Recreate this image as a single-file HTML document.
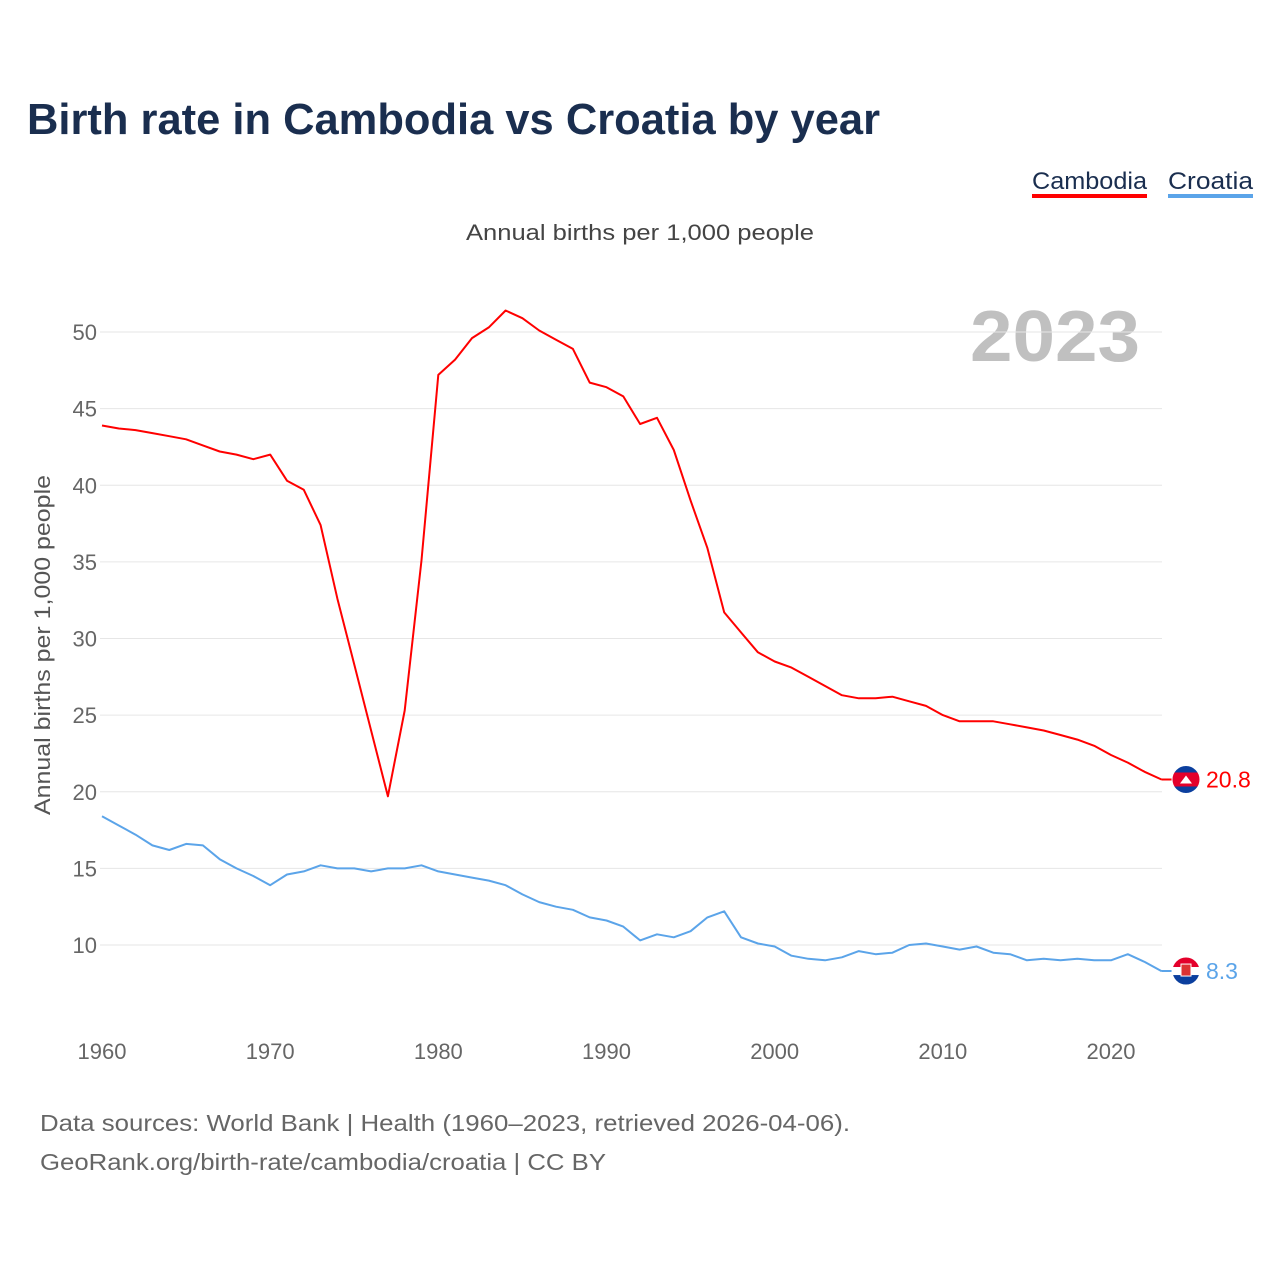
<!DOCTYPE html>
<html><head><meta charset="utf-8"><style>
html,body{margin:0;padding:0;background:#fff;}
body{width:1280px;height:1280px;position:relative;font-family:"Liberation Sans",sans-serif;overflow:hidden;}
</style></head><body>
<svg id="chart" width="1280" height="1280" xmlns="http://www.w3.org/2000/svg" style="position:absolute;left:0;top:0">
<text x="27" y="134" font-size="44" font-weight="bold" fill="#1a2e4f" textLength="853" lengthAdjust="spacingAndGlyphs">Birth rate in Cambodia vs Croatia by year</text>
<g>
<text x="1032" y="189" font-size="24" fill="#1a2e4f" textLength="115" lengthAdjust="spacingAndGlyphs">Cambodia</text>
<rect x="1032" y="194" width="115" height="4" fill="#ff0000"/>
<text x="1168" y="189" font-size="24" fill="#1a2e4f" textLength="85" lengthAdjust="spacingAndGlyphs">Croatia</text>
<rect x="1168" y="194" width="85" height="4" fill="#5ba4e9"/>
</g>
<text x="466" y="240" font-size="22" fill="#444" textLength="348" lengthAdjust="spacingAndGlyphs">Annual births per 1,000 people</text>
<text x="970" y="361" font-size="72" font-weight="bold" fill="#c0c0c0" textLength="170" lengthAdjust="spacingAndGlyphs">2023</text>
<text transform="translate(50,815) rotate(-90)" font-size="22" fill="#555" textLength="340" lengthAdjust="spacingAndGlyphs">Annual births per 1,000 people</text>
<defs><clipPath id="cc1"><circle cx="1186" cy="0" r="14"/></clipPath></defs>
<g id="grid"></g><g id="yt"></g><g id="xt"></g><g id="lines"></g><g id="ends"></g>
<text x="40" y="1131" font-size="23" fill="#666" textLength="810" lengthAdjust="spacingAndGlyphs">Data sources: World Bank | Health (1960–2023, retrieved 2026-04-06).</text>
<text x="40" y="1170" font-size="23" fill="#666" textLength="566" lengthAdjust="spacingAndGlyphs">GeoRank.org/birth-rate/cambodia/croatia | CC BY</text>
</svg>
<script>
const years=[];for(let y=1960;y<=2023;y++)years.push(y);
const cambodia=[43.9,43.7,43.6,43.4,43.2,43.0,42.6,42.2,42.0,41.7,42.0,40.3,39.7,37.4,32.6,28.3,24.0,19.7,25.3,35.1,47.2,48.2,49.6,50.3,51.4,50.9,50.1,49.5,48.9,46.7,46.4,45.8,44.0,44.4,42.3,39.0,35.9,31.7,30.4,29.1,28.5,28.1,27.5,26.9,26.3,26.1,26.1,26.2,25.9,25.6,25.0,24.6,24.6,24.6,24.4,24.2,24.0,23.7,23.4,23.0,22.4,21.9,21.3,20.8];
const croatia=[18.4,17.8,17.2,16.5,16.2,16.6,16.5,15.6,15.0,14.5,13.9,14.6,14.8,15.2,15.0,15.0,14.8,15.0,15.0,15.2,14.8,14.6,14.4,14.2,13.9,13.3,12.8,12.5,12.3,11.8,11.6,11.2,10.3,10.7,10.5,10.9,11.8,12.2,10.5,10.1,9.9,9.3,9.1,9.0,9.2,9.6,9.4,9.5,10.0,10.1,9.9,9.7,9.9,9.5,9.4,9.0,9.1,9.0,9.1,9.0,9.0,9.4,8.9,8.3];
const yTicks=[10,15,20,25,30,35,40,45,50];
const xTicks=[1960,1970,1980,1990,2000,2010,2020];
const X=y=>102+(y-1960)*(1009/60);
const Y=v=>945-(v-10)*(613/40);
const NS="http://www.w3.org/2000/svg";
function mk(t,a,p){const e=document.createElementNS(NS,t);for(const k in a)e.setAttribute(k,a[k]);p.appendChild(e);return e;}
const grid=document.getElementById('grid'),yt=document.getElementById('yt'),xt=document.getElementById('xt');
yTicks.forEach(v=>{
 const l=mk('line',{x1:100,x2:1162,y1:Y(v),y2:Y(v),stroke:'#e6e6e6','stroke-width':1},grid);
 
 
 const t=mk('text',{x:97,y:Y(v)+8,'font-size':22,fill:'#666','text-anchor':'end'},yt);
 t.textContent=v;
 
 
});
xTicks.forEach(v=>{
 const t=mk('text',{x:X(v),y:1059,'font-size':22,fill:'#666','text-anchor':'middle'},xt);
 t.textContent=v;
 
 
});
const lines=document.getElementById('lines'),ends=document.getElementById('ends');
const defs=document.querySelector('defs');
function series(vals,color,name){
 const d=vals.map((v,i)=>(i?'L':'M')+X(years[i]).toFixed(1)+','+Y(v).toFixed(1)).join(' ');
 const p=mk('path',{d:d,fill:'none',stroke:color,'stroke-width':2,'stroke-linejoin':'round'},lines);
 
 
 const last=vals[vals.length-1],ly=Y(last);
 mk('line',{x1:X(2023),x2:1186,y1:ly,y2:ly,stroke:color,'stroke-width':2},ends);
 const cp=mk('clipPath',{id:'clip-'+name},defs);
 mk('circle',{cx:1186,cy:ly,r:14},cp);
 const g=mk('g',{'clip-path':'url(#clip-'+name+')'},ends);
 
 
 if(name==='cambodia'){
  mk('rect',{x:1172,y:ly-14,width:28,height:28,fill:'#0b3f9e'},g);
  mk('rect',{x:1172,y:ly-7,width:28,height:14,fill:'#e4002b'},g);
  mk('path',{d:`M1180 ${ly+4} L1186 ${ly-4} L1192 ${ly+4}Z`,fill:'#fff'},g);
 } else {
  mk('rect',{x:1172,y:ly-14,width:28,height:10,fill:'#e4002b'},g);
  mk('rect',{x:1172,y:ly-4,width:28,height:8,fill:'#fff'},g);
  mk('rect',{x:1172,y:ly+4,width:28,height:10,fill:'#0b3f9e'},g);
  mk('rect',{x:1181,y:ly-7,width:10,height:12,fill:'#d33',stroke:'#fff','stroke-width':1},g);
 }
 mk('circle',{cx:1186,cy:ly,r:14,fill:'none',stroke:'#fff','stroke-width':1},ends);
 const t=mk('text',{x:1206,y:ly+8,'font-size':23,fill:color},ends);
 t.textContent=last;
 
 
}
series(cambodia,'#ff0000','cambodia');
series(croatia,'#5ba4e9','croatia');
</script>
</body></html>
